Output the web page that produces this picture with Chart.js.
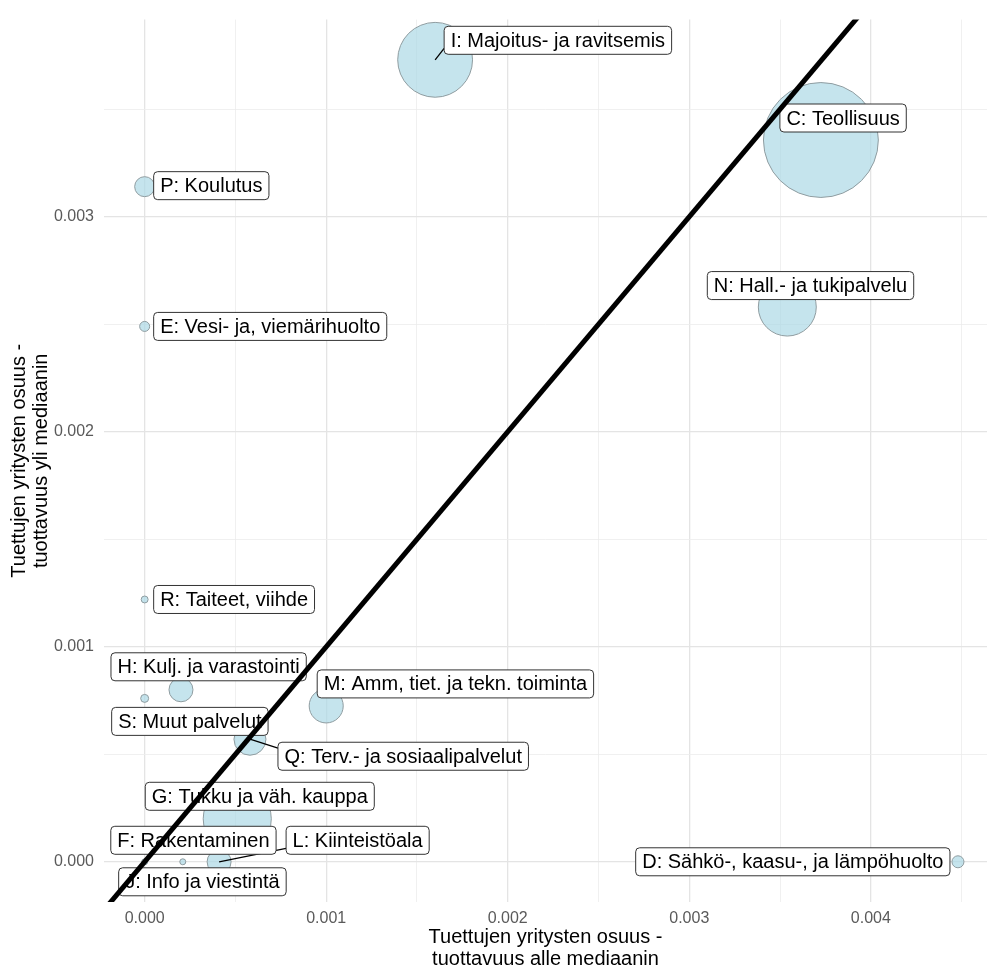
<!DOCTYPE html>
<html>
<head>
<meta charset="utf-8">
<script src="https://cdn.jsdelivr.net/npm/chart.js@4.4.1/dist/chart.umd.min.js"></script>
<style>
  html, body { margin: 0; padding: 0; background: #fff; }
</style>
</head>
<body>
<canvas id="kuvio" width="987" height="970"></canvas>
<script>
// toimialat ja osuudet (luettu kuvasta)
const toimialat = [
  "C: Teollisuus",
  "D: Sähkö-, kaasu-, ja lämpöhuolto",
  "E: Vesi- ja, viemärihuolto",
  "F: Rakentaminen",
  "G: Tukku ja väh. kauppa",
  "H: Kulj. ja varastointi",
  "I: Majoitus- ja ravitsemis",
  "J: Info ja viestintä",
  "L: Kiinteistöala",
  "M: Amm, tiet. ja tekn. toiminta",
  "N: Hall.- ja tukipalvelu",
  "P: Koulutus",
  "Q: Terv.- ja sosiaalipalvelut",
  "R: Taiteet, viihde",
  "S: Muut palvelut"
];
const osuusAlle = [0.003725, 0.00448, 0, 0.00021, 0.00051, 0.0002, 0.0016, 0, 0.00041, 0.001, 0.00354, 0, 0.00058, 0, 0];
const osuusYli  = [0.003357, 0, 0.00249, 0, 0.0002, 0.0008, 0.00373, 0, 0, 0.000725, 0.00258, 0.00314, 0.00057, 0.00122, 0.00076];
const koko      = [3300, 36, 25, 9, 1160, 144, 1400, 9, 144, 290, 840, 100, 256, 12, 16];

const xTicks = [0, 0.0005, 0.001, 0.0015, 0.002, 0.0025, 0.003, 0.0035, 0.004, 0.0045];
const yTicks = [0, 0.0005, 0.001, 0.0015, 0.002, 0.0025, 0.003, 0.0035];
const xRange = [-0.000224, 0.00464];
const yRange = [-0.000187, 0.003917];

// tekstilaatikoiden siirrot pisteestä (px): [dx, dy, kiinnitys]
const labelSiirto = [
  [-41, -22, "l"], [-8, 0, "r"], [9, 0, "l"], [-72, -21.5, "l"], [-92, -22.5, "l"],
  [-70, -23, "l"], [9, -19.5, "l"], [-26, 20, "l"], [67, -21.5, "l"], [-9, -22, "l"],
  [-80, -21.5, "l"], [9, -1, "l"], [28, 17, "l"], [9, 0, "l"], [-33, 23, "l"]
];

const FONT = '"Liberation Sans", Arial, sans-serif';

const kuplat = toimialat.map((t, i) => ({ x: osuusAlle[i], y: osuusYli[i], r: Math.sqrt(koko[i]) }));
const diagonaali = [
  { x: xRange[0] - 0.001, y: xRange[0] - 0.001 },
  { x: xRange[1] + 0.001, y: xRange[1] + 0.001 }
];

function roundRect(ctx, x, y, w, h, r) {
  ctx.beginPath();
  ctx.moveTo(x + r, y);
  ctx.lineTo(x + w - r, y);
  ctx.quadraticCurveTo(x + w, y, x + w, y + r);
  ctx.lineTo(x + w, y + h - r);
  ctx.quadraticCurveTo(x + w, y + h, x + w - r, y + h);
  ctx.lineTo(x + r, y + h);
  ctx.quadraticCurveTo(x, y + h, x, y + h - r);
  ctx.lineTo(x, y + r);
  ctx.quadraticCurveTo(x, y, x + r, y);
  ctx.closePath();
}

// nimilaatikot piirretään ennen viivaa, jotta viiva jää päälle
const labelPlugin = {
  id: "toimialaLabels",
  beforeDatasetDraw(chart, args) {
    if (args.index !== 1) return;
    const ctx = chart.ctx;
    const meta = chart.getDatasetMeta(0);
    ctx.save();
    ctx.font = "20px " + FONT;
    const h = 28;
    const boxes = meta.data.map((pt, i) => {
      const [dx, dy, kiinn] = labelSiirto[i];
      const w = ctx.measureText(toimialat[i]).width + 13;
      const left = kiinn === "r" ? pt.x + dx - w : pt.x + dx;
      return { left, top: pt.y + dy - h / 2, w, px: pt.x, py: pt.y };
    });
    ctx.strokeStyle = "#000";
    ctx.lineWidth = 1.3;
    boxes.forEach(b => {
      const nx = Math.min(Math.max(b.px, b.left), b.left + b.w);
      const ny = Math.min(Math.max(b.py, b.top), b.top + h);
      if (Math.hypot(nx - b.px, ny - b.py) <= 10) return;
      const ey = Math.min(Math.max(b.py, b.top + 6), b.top + h - 6);
      ctx.beginPath();
      ctx.moveTo(b.px, b.py);
      ctx.lineTo(nx, ey);
      ctx.stroke();
    });
    boxes.forEach((b, i) => {
      roundRect(ctx, b.left, b.top, b.w, h, 4);
      ctx.fillStyle = "#fff";
      ctx.fill();
      ctx.strokeStyle = "#333";
      ctx.lineWidth = 1;
      ctx.stroke();
      ctx.fillStyle = "#000";
      ctx.textBaseline = "middle";
      ctx.textAlign = "left";
      ctx.fillText(toimialat[i], b.left + 6.5, b.top + h / 2 + 1);
    });
    ctx.restore();
  }
};

const gridColor = c => (c.index % 2 === 0 ? "#e4e4e4" : "#ececec");
const gridWidth = c => (c.index % 2 === 0 ? 1.3 : 0.8);

new Chart(document.getElementById("kuvio"), {
  type: "bubble",
  data: {
    datasets: [
      {
        type: "bubble",
        data: kuplat,
        backgroundColor: "rgba(173,216,230,0.7)",
        borderColor: "#8f9ca0",
        borderWidth: 1,
        order: 1,
        clip: false
      },
      {
        type: "line",
        data: diagonaali,
        borderColor: "#000",
        borderWidth: 5,
        pointRadius: 0,
        fill: false,
        order: 0,
        clip: 0
      }
    ]
  },
  options: {
    responsive: false,
    animation: false,
    layout: { autoPadding: false, padding: { top: 14, right: 0, left: 0, bottom: 0 } },
    plugins: { legend: { display: false }, tooltip: { enabled: false } },
    scales: {
      x: {
        type: "linear",
        min: xRange[0],
        max: xRange[1],
        afterBuildTicks: s => { s.ticks = xTicks.map(v => ({ value: v })); },
        afterFit: s => { s.height = 68; },
        grid: { color: gridColor, lineWidth: gridWidth, drawTicks: false },
        border: { display: false },
        ticks: {
          autoSkip: false, maxRotation: 0, padding: 7, color: "#5a5a5a",
          font: { family: FONT, size: 16 },
          callback: (v, i) => (i % 2 === 0 ? v.toFixed(3) : "")
        },
        title: {
          display: true,
          text: ["Tuettujen yritysten osuus -", "tuottavuus alle mediaanin"],
          color: "#000",
          font: { family: FONT, size: 20, lineHeight: 1.1 },
          padding: { top: 0, bottom: 0 }
        }
      },
      y: {
        type: "linear",
        min: yRange[0],
        max: yRange[1],
        afterBuildTicks: s => { s.ticks = yTicks.map(v => ({ value: v })); },
        afterFit: s => { s.width = 104; },
        grid: { color: gridColor, lineWidth: gridWidth, drawTicks: false },
        border: { display: false },
        ticks: {
          autoSkip: false, padding: 10, color: "#5a5a5a",
          font: { family: FONT, size: 16 },
          callback: (v, i) => (i % 2 === 0 ? v.toFixed(3) : "")
        },
        title: {
          display: true,
          text: ["Tuettujen yritysten osuus -", "tuottavuus yli mediaanin"],
          color: "#000",
          font: { family: FONT, size: 20, lineHeight: 1.1 },
          padding: { top: 8, bottom: 0 }
        }
      }
    }
  },
  plugins: [labelPlugin]
});
</script>
</body>
</html>
